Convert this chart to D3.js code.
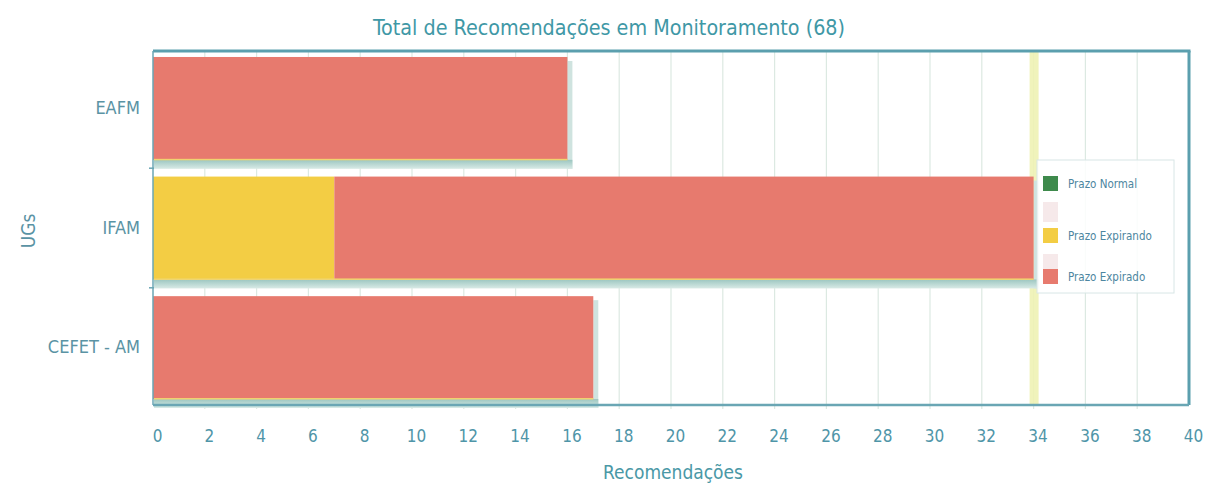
<!DOCTYPE html>
<html>
<head>
<meta charset="utf-8">
<script src="https://cdn.jsdelivr.net/npm/d3@7"></script>
<style>
  html, body { margin: 0; padding: 0; background: #ffffff; }
  svg { display: block; }
  text { font-family: "DejaVu Sans Condensed", "DejaVu Sans", sans-serif; }
</style>
</head>
<body>
<svg id="chart" width="1210" height="484"></svg>
<script>
// ---- data ----
const title = "Total de Recomendações em Monitoramento (68)";
const categories = ["EAFM", "IFAM", "CEFET - AM"];
const seriesNames = ["Prazo Normal", "Prazo Expirando", "Prazo Expirado"];
const prazoNormal = [0, 0, 0];
const prazoExpirando = [0, 7, 0];
const prazoExpirado = [16, 27, 17];
const xTickValues = [0, 2, 4, 6, 8, 10, 12, 14, 16, 18, 20, 22, 24, 26, 28, 30, 32, 34, 36, 38, 40];
const markerValue = 34;
const seriesColors = ["#3e8a4c", "#f3cd44", "#e77a6e"];

// ---- layout ----
const svg = d3.select("#chart");
const m = { left: 153, right: 1189, top: 51, bottom: 405 };

const x = d3.scaleLinear().domain([0, 40]).range([m.left, m.right]);
const y = d3.scaleBand().domain(categories).range([m.top, m.bottom]).paddingInner(0.14).paddingOuter(0.05);

const rows = categories.map((c, i) => ({
  cat: c,
  "Prazo Normal": prazoNormal[i],
  "Prazo Expirando": prazoExpirando[i],
  "Prazo Expirado": prazoExpirado[i]
}));
const stacked = d3.stack().keys(seriesNames)(rows);
const color = d3.scaleOrdinal().domain(seriesNames).range(seriesColors);
const totals = categories.map((c, i) => prazoNormal[i] + prazoExpirando[i] + prazoExpirado[i]);

const teal = "#4f95a8";

// gradient for base shadow
const defs = svg.append("defs");
const grad = defs.append("linearGradient").attr("id", "shadowGrad").attr("x1", 0).attr("y1", 0).attr("x2", 0).attr("y2", 1);
grad.append("stop").attr("offset", "0%").attr("stop-color", "#9cc6c0");
grad.append("stop").attr("offset", "100%").attr("stop-color", "#d8eae6");

// title
svg.append("text")
  .attr("x", 609).attr("y", 35)
  .attr("text-anchor", "middle")
  .attr("font-size", 22)
  .attr("fill", "#3f98a6")
  .attr("textLength", 472).attr("lengthAdjust", "spacingAndGlyphs")
  .text(title);

// plot background
svg.append("rect")
  .attr("x", m.left).attr("y", m.top)
  .attr("width", m.right - m.left).attr("height", m.bottom - m.top)
  .attr("fill", "#ffffff");

// gridlines
svg.append("g").selectAll("line")
  .data(xTickValues.filter(v => v > 0 && v < 40))
  .join("line")
  .attr("x1", d => x(d)).attr("x2", d => x(d))
  .attr("y1", m.top).attr("y2", m.bottom + 4)
  .attr("stroke", "#dce9e2").attr("stroke-width", 1.2);

// marker line at 34
svg.append("rect")
  .attr("x", x(markerValue) - 4).attr("y", m.top)
  .attr("width", 9).attr("height", m.bottom - m.top)
  .attr("fill", "#eef2b4").attr("opacity", 0.9);

// right-side shadow of bars
svg.append("g").selectAll("rect")
  .data(categories)
  .join("rect")
  .attr("x", (d, i) => x(totals[i]))
  .attr("y", d => y(d) + 4)
  .attr("width", 5)
  .attr("height", y.bandwidth() + 5)
  .attr("fill", "#cfe3df");

// bar base shadows (3D base)
svg.append("g").selectAll("rect")
  .data(categories)
  .join("rect")
  .attr("x", x(0) + 1)
  .attr("y", d => y(d) + y.bandwidth())
  .attr("width", (d, i) => x(totals[i]) - x(0) + 4)
  .attr("height", 9)
  .attr("fill", "url(#shadowGrad)");

// bars
svg.append("g").selectAll("g")
  .data(stacked)
  .join("g")
  .attr("fill", d => color(d.key))
  .selectAll("rect")
  .data(d => d.filter(p => p[1] - p[0] > 0))
  .join("rect")
  .attr("x", d => x(d[0]))
  .attr("y", d => y(d.data.cat))
  .attr("width", d => x(d[1]) - x(d[0]))
  .attr("height", y.bandwidth());

// thin yellow bottom edge on bars
svg.append("g").selectAll("rect")
  .data(categories)
  .join("rect")
  .attr("x", x(0) + 1)
  .attr("y", d => y(d) + y.bandwidth() - 1)
  .attr("width", (d, i) => x(totals[i]) - x(0) - 1)
  .attr("height", 1.5)
  .attr("fill", "#f0d470");

// frame
svg.append("line").attr("x1", m.left).attr("x2", m.right + 1.5).attr("y1", m.top).attr("y2", m.top)
  .attr("stroke", "#5b9fae").attr("stroke-width", 3);
svg.append("line").attr("x1", m.right).attr("x2", m.right).attr("y1", m.top).attr("y2", m.bottom)
  .attr("stroke", "#5b9fae").attr("stroke-width", 3);
svg.append("line").attr("x1", m.left).attr("x2", m.right).attr("y1", m.bottom).attr("y2", m.bottom)
  .attr("stroke", "#6aa6b4").attr("stroke-width", 2.5);
svg.append("line").attr("x1", m.left).attr("x2", m.left).attr("y1", m.top).attr("y2", m.bottom)
  .attr("stroke", "#6aa6b4").attr("stroke-width", 1.5);

// x axis
const xAxis = d3.axisBottom(x).tickValues(xTickValues).tickSize(0).tickPadding(0);
const gx = svg.append("g").attr("transform", `translate(4,${m.bottom})`).call(xAxis);
gx.select(".domain").remove();
gx.selectAll("text")
  .attr("y", 24)
  .attr("dy", 0)
  .attr("dominant-baseline", "hanging")
  .attr("font-size", 17)
  .attr("font-family", "DejaVu Sans Condensed, DejaVu Sans, sans-serif")
  .attr("fill", teal);

// y axis
const yAxis = d3.axisLeft(y).tickSize(0).tickPadding(13);
const gy = svg.append("g").attr("transform", `translate(${m.left},0)`).call(yAxis);
gy.select(".domain").remove();
gy.selectAll("text")
  .attr("font-size", 18)
  .attr("font-family", "DejaVu Sans Condensed, DejaVu Sans, sans-serif")
  .attr("fill", "#5a93a4");

// small ticks at band boundaries on left axis
svg.append("g").selectAll("line")
  .data(categories.slice(1))
  .join("line")
  .attr("x1", m.left - 4).attr("x2", m.left + 1)
  .attr("y1", d => y(d) - y.step() * y.paddingInner() / 2)
  .attr("y2", d => y(d) - y.step() * y.paddingInner() / 2)
  .attr("stroke", "#6aa6b4").attr("stroke-width", 1.5);

// axis titles
svg.append("text")
  .attr("x", 673).attr("y", 479)
  .attr("text-anchor", "middle")
  .attr("font-size", 19)
  .attr("fill", "#4a98a6")
  .text("Recomendações");

svg.append("text")
  .attr("transform", "translate(35,231) rotate(-90)")
  .attr("text-anchor", "middle")
  .attr("font-size", 19)
  .attr("fill", "#5a93a4")
  .text("UGs");

// legend
const lg = svg.append("g").attr("transform", "translate(1037,160)");
lg.append("rect").attr("x", 0).attr("y", 0).attr("width", 137).attr("height", 133)
  .attr("fill", "#ffffff").attr("fill-opacity", 0.85)
  .attr("stroke", "#d8e6e6").attr("stroke-width", 1);
const legendY = [24, 76, 117];
lg.selectAll("rect.sep").data([38, 90]).join("rect").attr("class", "sep")
  .attr("x", 6).attr("y", d => d + 4).attr("width", 15).attr("height", 20)
  .attr("fill", "#f6e9ea");
const items = lg.selectAll("g.item").data(seriesNames).join("g").attr("class", "item")
  .attr("transform", (d, i) => `translate(6,${legendY[i]})`);
items.append("rect").attr("x", 0).attr("y", -8).attr("width", 15).attr("height", 15)
  .attr("fill", d => color(d));
items.append("text").attr("x", 25).attr("y", 4)
  .attr("font-size", 11.5).attr("fill", "#4d86a0")
  .text(d => d);
</script>
</body>
</html>
